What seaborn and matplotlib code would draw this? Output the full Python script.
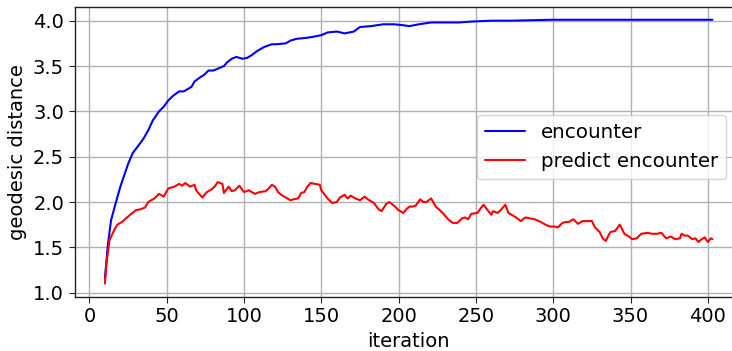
import matplotlib
matplotlib.use("Agg")
import matplotlib.pyplot as plt
import seaborn as sns
import pandas as pd

# ---- data ----
enc_iter = [10, 12, 14, 17, 20, 23, 25, 28, 32, 35, 38, 41, 45, 48, 51, 54, 58, 61,
            64, 66, 68, 72, 74, 77, 80, 83, 87, 89, 92, 95, 99, 102, 105, 108, 113,
            118, 121, 127, 130, 134, 140, 144, 150, 154, 160, 165, 171, 175, 182,
            190, 197, 203, 207, 213, 221, 230, 239, 247, 260, 273, 299, 325, 350,
            375, 403]
enc_val = [1.16, 1.54, 1.80, 1.99, 2.17, 2.32, 2.42, 2.54, 2.63, 2.70, 2.79, 2.90,
           3.00, 3.05, 3.12, 3.17, 3.22, 3.22, 3.25, 3.27, 3.33, 3.38, 3.40, 3.45,
           3.45, 3.47, 3.50, 3.54, 3.58, 3.60, 3.58, 3.59, 3.62, 3.66, 3.71, 3.74,
           3.74, 3.75, 3.78, 3.80, 3.81, 3.82, 3.84, 3.87, 3.88, 3.86, 3.88, 3.93,
           3.94, 3.96, 3.96, 3.95, 3.94, 3.96, 3.98, 3.98, 3.98, 3.99, 4.00, 4.00,
           4.01, 4.01, 4.01, 4.01, 4.01]

pred_iter = [10, 11, 13, 16, 18, 21, 25, 30, 33, 36, 38, 42, 45, 48, 51, 55, 58, 60,
             62, 65, 68, 69, 73, 76, 79, 81, 83, 86, 87, 90, 92, 94, 97, 100, 103,
             107, 110, 114, 116, 118, 120, 122, 124, 127, 130, 132, 135, 137, 139,
             141, 143, 146, 149, 150, 154, 157, 160, 162, 165, 167, 169, 172, 175,
             178, 180, 184, 187, 189, 192, 194, 197, 200, 203, 205, 207, 209, 211,
             214, 216, 218, 221, 224, 226, 229, 232, 235, 238, 241, 243, 245, 247,
             251, 253, 255, 258, 260, 261, 264, 266, 269, 271, 274, 276, 279, 282,
             285, 288, 292, 295, 298, 301, 303, 306, 308, 310, 313, 316, 319, 321,
             325, 327, 330, 332, 334, 336, 337, 340, 343, 344, 346, 349, 351, 354,
             357, 361, 364, 367, 370, 373, 376, 379, 382, 383, 385, 387, 390, 392,
             394, 396, 398, 400, 402, 403]
pred_val = [1.10, 1.32, 1.58, 1.69, 1.75, 1.78, 1.84, 1.91, 1.92, 1.94, 2.00, 2.04,
            2.09, 2.06, 2.15, 2.17, 2.20, 2.18, 2.21, 2.17, 2.19, 2.13, 2.05, 2.11,
            2.14, 2.17, 2.22, 2.20, 2.10, 2.17, 2.12, 2.13, 2.18, 2.11, 2.13, 2.09,
            2.11, 2.12, 2.15, 2.19, 2.17, 2.11, 2.08, 2.05, 2.02, 2.03, 2.04, 2.10,
            2.11, 2.17, 2.21, 2.20, 2.19, 2.13, 2.04, 1.99, 2.00, 2.05, 2.08, 2.04,
            2.07, 2.04, 2.02, 2.06, 2.03, 1.99, 1.92, 1.90, 1.98, 2.00, 1.96, 1.91,
            1.88, 1.92, 1.95, 1.95, 1.96, 2.03, 2.00, 2.00, 2.04, 1.95, 1.92, 1.87,
            1.81, 1.77, 1.77, 1.82, 1.83, 1.81, 1.87, 1.88, 1.93, 1.97, 1.90, 1.86,
            1.90, 1.88, 1.91, 1.97, 1.88, 1.85, 1.83, 1.79, 1.83, 1.82, 1.81, 1.78,
            1.75, 1.73, 1.73, 1.72, 1.77, 1.78, 1.78, 1.81, 1.76, 1.79, 1.79, 1.79,
            1.72, 1.67, 1.60, 1.57, 1.64, 1.67, 1.68, 1.75, 1.72, 1.65, 1.62, 1.59,
            1.60, 1.65, 1.66, 1.65, 1.65, 1.66, 1.60, 1.62, 1.59, 1.60, 1.65, 1.63,
            1.63, 1.59, 1.60, 1.56, 1.59, 1.61, 1.56, 1.60, 1.59]

labels = ["encounter", "predict encounter"]
colors = ["blue", "red"]

df = pd.concat([
    pd.DataFrame({"iteration": enc_iter, "value": enc_val, "series": labels[0]}),
    pd.DataFrame({"iteration": pred_iter, "value": pred_val, "series": labels[1]}),
], ignore_index=True)

sns.set_style("ticks")
plt.rcParams["font.family"] = ["DejaVu Sans"]
plt.rcParams["text.color"] = "black"
plt.rcParams["axes.labelcolor"] = "black"
plt.rcParams["xtick.color"] = "black"
plt.rcParams["ytick.color"] = "black"

fig = plt.figure(figsize=(7.32, 3.51), dpi=100)
ax = fig.add_axes([0.1018, 0.1544, 0.913, 0.827])

sns.lineplot(data=df, x="iteration", y="value", hue="series",
             palette=dict(zip(labels, colors)), linewidth=1.5, ax=ax,
             estimator=None, sort=False)

ax.set_xlim(-9.65, 422.65)
ax.set_ylim(0.955, 4.156)
ax.set_xticks([0, 50, 100, 150, 200, 250, 300, 350, 400])
ax.set_yticks([1.0, 1.5, 2.0, 2.5, 3.0, 3.5, 4.0])
ax.grid(True, color="#b0b0b0", linewidth=1.0)
ax.set_axisbelow(True)
for s in ax.spines.values():
    s.set_visible(True)
    s.set_color("#222222")
    s.set_linewidth(1.0)
ax.tick_params(labelsize=14, length=4, color="#222222", labelcolor="black")
ax.set_xlabel("iteration", fontsize=14)
ax.set_ylabel("geodesic distance", fontsize=14)

leg = ax.legend(loc="center right", fontsize=14.3, title=None,
                bbox_to_anchor=(0.99, 0.515))
leg.get_frame().set_edgecolor("#cccccc")

fig.savefig("out.png", dpi=100)
